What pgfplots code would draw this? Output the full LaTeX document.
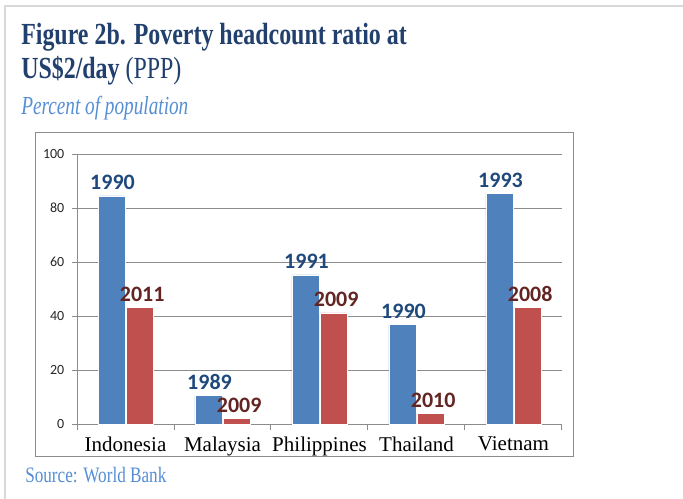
\documentclass[border=0pt]{standalone}
\usepackage{pgfplots}
\pgfplotsset{compat=1.18}
\usepackage{fontspec}
\setmainfont{Liberation Serif}
\newfontfamily\calibri{Carlito}
\definecolor{barblue}{HTML}{4F81BD}
\definecolor{barred}{HTML}{C0504D}
\definecolor{lblblue}{HTML}{1F497D}
\definecolor{lblred}{HTML}{632523}
\definecolor{titlenavy}{HTML}{22406E}
\definecolor{lightblue}{HTML}{558ED5}
\definecolor{gridgray}{HTML}{8C8C8C}

\begin{document}
\begin{tikzpicture}
% page: 683 x 499 px, 1 px = 0.75pt
\path[use as bounding box] (0,0) rectangle (512.25pt,-374.25pt);
\draw[line width=1.5pt, black!15] (3.75pt,-374.25pt) -- (3.75pt,-4.5pt) -- (512.25pt,-4.5pt);

% titles
\node[anchor=base west, inner sep=0, text=titlenavy] at (15.75pt,-33.75pt)
  {\scalebox{0.78}[1]{\fontsize{23}{26}\selectfont\bfseries Figure 2b. Poverty headcount ratio at}};
\node[anchor=base west, inner sep=0, text=titlenavy] at (15.75pt,-59.25pt)
  {\scalebox{0.78}[1]{\fontsize{23}{26}\selectfont\textbf{US\$2/day} (PPP)}};
\node[anchor=base west, inner sep=0, text=lightblue] at (15.75pt,-86.25pt)
  {\scalebox{0.74}[1]{\fontsize{19.5}{22}\selectfont\itshape Percent of population}};
\node[anchor=base west, inner sep=0, text=lightblue] at (18.75pt,-362.25pt)
  {\scalebox{0.78}[1]{\fontsize{16.5}{20}\selectfont Source: World Bank}};

% chart frame
\draw[gridgray, line width=0.75pt] (26.25pt,-99.75pt) rectangle (429.75pt,-342.75pt);

\begin{axis}[
    at={(57.75pt,-318.2pt)}, anchor=south west,
    scale only axis,
    width=363.75pt, height=202.7pt,
    ybar=0.75pt, bar width=20.25pt,
    xmin=-0.5, xmax=4.5,
    ymin=0, ymax=100,
    ytick={0,20,40,60,80,100},
    xtick={0,1,2,3,4},
    xticklabels={Indonesia,Malaysia,Philippines,Thailand,Vietnam},
    /pgf/number format/assume math mode=true,
    x tick label style={font=\fontsize{15.75}{18}\selectfont, yshift=-2pt},
    y tick label style={font=\calibri\fontsize{10.5}{12}\selectfont, text=black!85, xshift=-2pt},
    x tick style={draw=none},
    extra x ticks={-0.5,0.5,1.5,2.5,3.5,4.5},
    extra x tick labels={},
    extra x tick style={x tick style={draw=gridgray, line width=0.75pt}, major tick length=4.5pt},
    y tick style={draw=gridgray, line width=0.75pt},
    major tick length=4pt,
    tick align=outside,
    axis x line*=bottom, axis y line*=left,
    axis line style={draw=gridgray, line width=0.75pt},
    ymajorgrids, grid style={gridgray, line width=0.75pt},
    point meta=explicit symbolic,
    nodes near coords,
    every node near coord/.append style={font=\calibri\bfseries\fontsize{16.5}{18}\selectfont, anchor=base, inner sep=0pt, yshift=4.5pt},
  ]
\addplot[fill=barblue, draw=white, line width=0.4pt,
  every node near coord/.append style={text=lblblue, xshift=0.75pt}]
  coordinates {(0,84.5)[1990] (1,10.7)[1989] (2,55.3)[1991] (3,37.0)[1990] (4,85.5)[1993]};
\addplot[fill=barred, draw=white, line width=0.4pt,
  every node near coord/.append style={text=lblred, xshift=2pt}]
  coordinates {(0,43.3)[2011] (1,2.1)[2009] (2,41.2)[2009] (3,4.1)[2010] (4,43.3)[2008]};
\end{axis}
\end{tikzpicture}
\end{document}
